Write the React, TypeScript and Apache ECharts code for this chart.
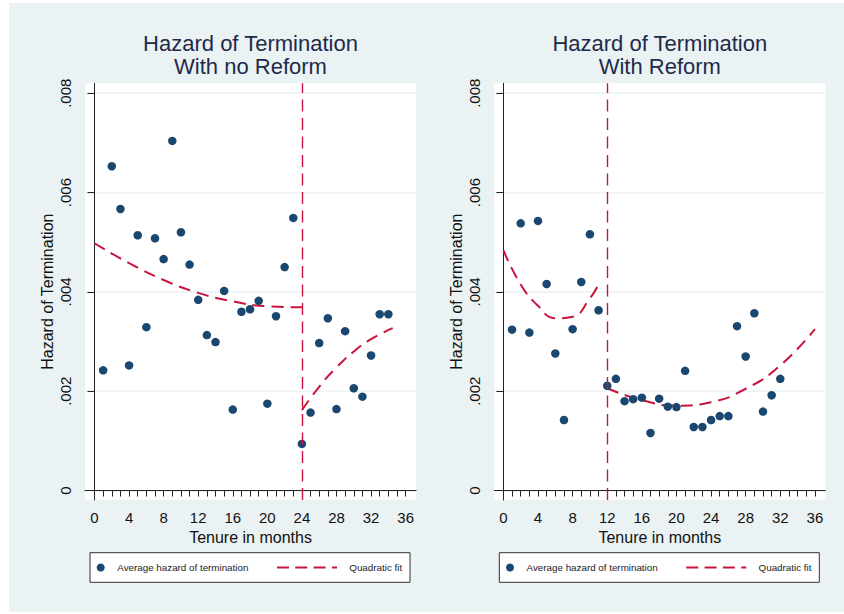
import React, { useEffect, useRef } from "react";
import * as echarts from "echarts";

// ---- Data ----
const noReformMonths = [1,2,3,4,5,6,7,8,9,10,11,12,13,14,15,16,17,18,19,20,21,22,23,24,25,26,27,28,29,30,31,32,33,34];
const noReformHazard = [0.00242,0.00653,0.00567,0.00252,0.00514,0.00329,0.00508,0.00466,0.00704,0.00520,0.00455,0.00384,0.00313,0.00299,0.00402,0.00163,0.00360,0.00365,0.00382,0.00175,0.00351,0.00450,0.00549,0.00094,0.00157,0.00297,0.00347,0.00164,0.00321,0.00206,0.00189,0.00272,0.00355,0.00355];

const reformMonths = [1,2,3,4,5,6,7,8,9,10,11,12,13,14,15,16,17,18,19,20,21,22,23,24,25,26,27,28,29,30,31,32];
const reformHazard = [0.00324,0.00538,0.00318,0.00543,0.00416,0.00276,0.00142,0.00325,0.00420,0.00516,0.00363,0.00211,0.00225,0.00180,0.00184,0.00187,0.00116,0.00185,0.00169,0.00168,0.00241,0.00128,0.00128,0.00142,0.00150,0.00150,0.00331,0.00270,0.00357,0.00159,0.00192,0.00225];

// Quadratic fit curves
const noReformFitPreX = [0, 4, 8, 12, 16, 20, 24];
const noReformFitPreY = [0.00498, 0.00458, 0.00424, 0.00398, 0.00381, 0.00371, 0.00369];
const noReformFitPostX = [24, 26, 28, 30, 32, 34.5];
const noReformFitPostY = [0.00162, 0.00209, 0.00248, 0.00280, 0.00305, 0.00327];

const reformFitPreX = [0, 2, 4, 6, 8, 10, 11];
const reformFitPreY = [0.00484, 0.00415, 0.00372, 0.00347, 0.00350, 0.00387, 0.00415];
const reformFitPostX = [12, 16, 20, 24, 28, 32, 36];
const reformFitPostY = [0.00206, 0.00182, 0.00171, 0.00178, 0.00205, 0.00252, 0.00325];

const reformCutoffs = [24, 12];
const titleLine1 = ["Hazard of Termination", "Hazard of Termination"];
const titleLine2 = ["With no Reform", "With Reform"];
const yTickValues = [0, 0.002, 0.004, 0.006, 0.008];
const xLabelValues = [0, 4, 8, 12, 16, 20, 24, 28, 32, 36];
const xTickValues = Array.from({ length: 37 }, (_, i) => i);
const legendNames = ["Average hazard of termination", "Quadratic fit"];

const FONT = "'Liberation Sans', Arial, Helvetica, sans-serif";
const NAVY = "#1a476f";
const RED = "#c8143c";
const BG = "#eaf2f3";
const TXT = "#111111";

const zip = (xs: number[], ys: number[]) => xs.map((x, i) => [x, ys[i]]);

export default function App() {
  const ref = useRef<HTMLDivElement>(null);

  useEffect(() => {
    if (!ref.current) return;
    const chart = echarts.init(ref.current, undefined, { renderer: "svg" });

    const panels = [
      { left: 85, xmin: -1.1, months: noReformMonths, hazard: noReformHazard,
        fits: [zip(noReformFitPreX, noReformFitPreY), zip(noReformFitPostX, noReformFitPostY)] },
      { left: 494.3, xmin: -1.05, months: reformMonths, hazard: reformHazard,
        fits: [zip(reformFitPreX, reformFitPreY), zip(reformFitPostX, reformFitPostY)] },
    ];
    const plotW = 331;
    const plotTop = 83.3;
    const plotH = 416.7;

    const grids: any[] = [];
    const xAxes: any[] = [];
    const yAxes: any[] = [];
    const series: any[] = [];
    const titles: any[] = [];
    const graphics: any[] = [
      { type: "rect", z: -100, shape: { x: 9, y: 3, width: 835, height: 609 }, style: { fill: BG }, silent: true },
    ];

    panels.forEach((p, i) => {
      grids.push({ left: p.left, top: plotTop, width: plotW, height: plotH, show: true, backgroundColor: "#ffffff", borderWidth: 0 });
      xAxes.push({
        type: "value", gridIndex: i, min: p.xmin, max: 37.2,
        name: "Tenure in months", nameLocation: "middle", nameGap: 25,
        nameTextStyle: { fontFamily: FONT, fontSize: 16, color: TXT },
        axisLine: { show: true, lineStyle: { color: "#222", width: 1 } },
        axisTick: { show: true, customValues: xTickValues, length: 6, lineStyle: { color: "#222", width: 1 } },
        axisLabel: { customValues: xLabelValues, fontFamily: FONT, fontSize: 15, color: TXT, margin: 10 },
        splitLine: { show: false },
      });
      yAxes.push({
        type: "value", gridIndex: i, min: -0.00019, max: 0.0082,
        name: "Hazard of Termination", nameLocation: "middle", nameGap: 30,
        nameTextStyle: { fontFamily: FONT, fontSize: 16, color: TXT },
        axisLine: { show: true, lineStyle: { color: "#222", width: 1 } },
        axisTick: { show: true, customValues: yTickValues, length: 7, lineStyle: { color: "#222", width: 1 } },
        axisLabel: {
          customValues: yTickValues, rotate: 90, fontFamily: FONT, fontSize: 15, color: TXT, margin: 12,
          formatter: (v: number) => (Math.abs(v) < 1e-9 ? "0" : v.toFixed(3).replace(/^0/, "")),
        },
        splitLine: { show: true, lineStyle: { color: BG, width: 1.5 } },
      });
      series.push({
        type: "scatter", name: legendNames[0], xAxisIndex: i, yAxisIndex: i,
        data: zip(p.months, p.hazard), symbol: "circle", symbolSize: 8.5,
        itemStyle: { color: NAVY, opacity: 1 },
        markLine: {
          silent: true, symbol: ["none", "none"], label: { show: false },
          lineStyle: { color: RED, width: 1.4, type: [12, 6.5] },
          data: [{ xAxis: reformCutoffs[i] }],
        },
        z: 3,
      });
      p.fits.forEach((fit) => {
        series.push({
          type: "line", name: legendNames[1], xAxisIndex: i, yAxisIndex: i,
          data: fit, smooth: 0.5, showSymbol: false, symbol: "none",
          lineStyle: { color: RED, width: 2, type: [12, 7] }, z: 2,
        });
      });
      const cx = p.left + plotW / 2;
      const tStyle = { fontFamily: FONT, fontSize: 22, lineHeight: 22, fontWeight: "normal", color: "#1f2a4a" };
      titles.push(
        { text: titleLine1[i], left: cx, top: 32, textAlign: "center", padding: 0, textStyle: tStyle },
        { text: titleLine2[i], left: cx, top: 55, textAlign: "center", padding: 0, textStyle: tStyle },
      );
      // legend box
      const lx = 90 + (p.left - 85);
      const ly = 567.5;
      graphics.push(
        { type: "rect", shape: { x: lx, y: 552.7, width: 320, height: 29.6 }, style: { fill: "#ffffff", stroke: "#333333", lineWidth: 1 }, silent: true },
        { type: "circle", shape: { cx: lx + 10.7, cy: ly, r: 4 }, style: { fill: NAVY }, silent: true },
        { type: "text", x: lx + 27.3, y: ly, style: { text: legendNames[0], fontFamily: FONT, fontSize: 9.8, fill: "#222", verticalAlign: "middle", align: "left" }, silent: true },
        { type: "line", shape: { x1: lx + 187, y1: ly, x2: lx + 247, y2: ly }, style: { stroke: RED, lineWidth: 2, lineDash: [12, 6.3] }, silent: true },
        { type: "text", x: lx + 259.3, y: ly, style: { text: legendNames[1], fontFamily: FONT, fontSize: 9.8, fill: "#222", verticalAlign: "middle", align: "left" }, silent: true },
      );
    });

    chart.setOption({
      animation: false,
      backgroundColor: "#ffffff",
      textStyle: { fontFamily: FONT },
      title: titles,
      grid: grids,
      xAxis: xAxes,
      yAxis: yAxes,
      series,
      graphic: graphics,
    });

    return () => chart.dispose();
  }, []);

  return <div ref={ref} style={{ position: "absolute", left: 0, top: 0, width: 844, height: 614 }} />;
}
